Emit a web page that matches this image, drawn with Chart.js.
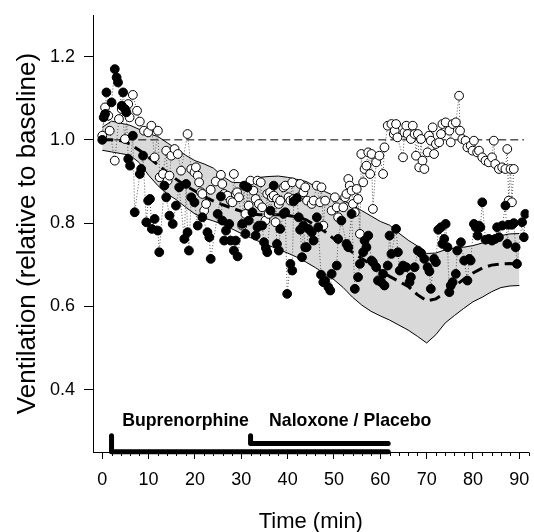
<!DOCTYPE html>
<html><head><meta charset="utf-8">
<script src="https://cdn.jsdelivr.net/npm/chart.js@4.4.1/dist/chart.umd.min.js"></script>
<style>html,body{margin:0;padding:0;background:#fff;}canvas{display:block;}</style>
</head><body>
<canvas id="c" width="534" height="532"></canvas>
<script>
// ---------- data ----------
const xTickLabels = [0, 10, 20, 30, 40, 50, 60, 70, 80, 90];
const yTickLabels = [0.4, 0.6, 0.8, 1.0, 1.2];

// filled circles (placebo after naloxone time)
const filledT = [0.0,0.3,0.6,0.9,2.0,2.7,3.1,3.4,4.2,4.5,4.9,5.2,5.6,6.0,6.6,7.0,8.1,8.4,8.8,9.5,9.9,10.3,10.7,11.3,12.0,12.3,13.4,13.8,14.5,15.2,15.9,16.6,17.7,18.1,18.4,18.7,19.2,19.9,20.6,21.6,22.7,23.1,23.4,24.9,25.6,25.9,26.3,26.7,27.4,27.7,28.4,28.8,29.2,30.2,30.6,30.9,31.3,31.6,32.4,33.1,33.5,33.8,34.5,34.9,35.3,35.6,36.3,37.0,37.7,38.1,38.4,39.1,39.5,39.9,40.6,41.0,41.3,42.0,42.4,42.7,43.1,43.4,43.8,44.1,44.5,45.2,45.6,46.3,46.6,47.2,47.7,48.1,48.8,49.2,49.5,50.6,50.9,51.6,52.7,53.1,53.8,54.5,55.2,55.6,56.3,56.6,57.0,57.4,58.1,58.4,59.1,59.5,60.2,60.6,60.9,61.6,62.0,62.4,63.4,63.8,64.2,64.9,65.6,66.3,66.6,67.4,68.1,68.8,69.5,70.2,70.6,70.9,71.6,72.0,72.5,73.1,73.4,73.8,74.1,74.5,74.9,75.2,75.6,76.3,76.6,77.4,78.1,78.8,79.2,79.5,80.2,80.6,81.0,81.3,81.6,82.0,82.7,83.4,84.1,84.8,85.2,85.6,86.3,87.0,87.4,87.7,88.4,88.8,89.2,89.5,90.6,91.0,91.3];
const filledV = [1.000,1.054,1.062,1.114,1.090,1.170,1.150,1.138,1.082,1.114,1.074,1.066,0.954,0.938,1.010,0.826,0.918,0.930,0.962,0.802,0.854,0.858,0.786,0.810,0.782,0.730,0.890,0.862,0.818,0.798,0.842,0.886,0.762,0.894,0.778,0.734,0.862,0.850,0.794,0.814,0.778,0.766,0.714,0.822,0.864,0.806,0.758,0.782,0.798,0.758,0.734,0.758,0.720,0.798,0.890,0.774,0.886,0.806,0.826,0.770,0.790,0.794,0.794,0.754,0.740,0.730,0.830,0.890,0.750,0.734,0.786,0.822,0.826,0.630,0.702,0.686,0.852,0.860,0.814,0.784,0.718,0.794,0.742,0.742,0.786,0.778,0.758,0.814,0.790,0.676,0.658,0.662,0.646,0.638,0.678,0.698,0.762,0.806,0.750,0.742,0.822,0.642,0.670,0.702,0.730,0.758,0.742,0.770,0.710,0.706,0.694,0.662,0.658,0.678,0.650,0.698,0.770,0.726,0.786,0.730,0.686,0.698,0.694,0.658,0.670,0.694,0.734,0.728,0.714,0.694,0.684,0.642,0.714,0.706,0.784,0.790,0.750,0.762,0.798,0.742,0.634,0.650,0.658,0.678,0.734,0.754,0.710,0.662,0.714,0.710,0.798,0.790,0.770,0.794,0.790,0.850,0.760,0.762,0.758,0.762,0.790,0.766,0.794,0.842,0.750,0.796,0.796,0.800,0.742,0.702,0.802,0.766,0.822];

// open circles (naloxone)
const openT = [0.0,0.6,0.9,1.3,1.6,2.7,3.6,4.2,4.9,5.6,5.9,6.6,7.5,8.1,9.0,9.9,10.6,11.3,12.0,12.4,13.1,13.8,14.1,14.5,14.9,15.6,16.3,17.0,18.4,19.2,19.9,20.2,20.6,20.9,21.3,21.6,22.0,22.4,23.4,24.5,25.6,25.9,26.3,27.0,27.7,28.1,28.4,28.8,29.1,29.5,30.2,30.9,31.6,32.0,32.6,33.1,33.5,33.8,34.2,34.5,35.2,35.6,35.9,36.2,36.6,37.0,37.4,37.7,38.1,38.4,39.1,39.5,40.2,40.6,41.0,41.3,42.4,42.7,43.4,43.8,44.2,45.2,45.6,46.3,47.0,47.3,47.7,48.1,49.5,50.2,50.6,50.9,52.0,52.4,52.7,53.1,53.4,53.8,54.1,54.5,54.9,55.2,55.6,55.9,56.3,56.6,57.0,57.4,57.8,58.1,58.4,59.1,59.8,60.6,60.9,61.6,62.4,62.9,63.1,63.4,63.7,64.9,65.2,65.6,65.9,66.6,67.0,67.4,67.7,68.1,68.4,68.8,69.1,69.5,70.2,70.5,70.9,71.3,71.6,72.0,72.7,73.1,73.4,74.1,74.9,75.2,75.6,76.3,77.0,77.2,77.7,78.4,78.8,79.5,79.9,80.2,80.9,81.3,82.0,82.7,83.4,84.1,84.5,84.8,85.6,86.3,87.0,87.4,87.7,88.1,88.4,88.8];
const openV = [1.010,1.078,1.062,1.058,1.022,0.950,1.050,1.074,1.002,1.086,1.054,1.108,1.070,1.044,1.022,1.018,1.034,0.958,1.022,0.910,0.918,0.974,0.902,0.914,0.962,0.978,0.966,0.926,1.014,0.930,0.922,0.934,0.914,0.898,0.874,0.870,0.830,0.846,0.880,0.900,0.916,0.894,0.870,0.866,0.854,0.850,0.918,0.870,0.874,0.862,0.794,0.822,0.842,0.902,0.878,0.858,0.902,0.846,0.898,0.838,0.806,0.870,0.822,0.874,0.862,0.866,0.802,0.858,0.846,0.854,0.886,0.890,0.862,0.854,0.898,0.858,0.862,0.894,0.874,0.886,0.854,0.846,0.854,0.890,0.850,0.886,0.794,0.854,0.830,0.862,0.838,0.814,0.838,0.862,0.870,0.906,0.890,0.878,0.846,0.826,0.882,0.858,0.774,0.966,0.898,0.930,0.938,0.970,0.918,0.966,0.834,0.946,0.962,0.918,0.982,1.034,1.038,1.014,1.022,1.038,1.006,0.958,1.018,1.034,1.014,1.002,1.034,1.014,0.962,1.014,0.934,1.002,0.950,0.930,0.970,1.010,0.998,1.030,0.966,0.990,0.994,1.014,1.038,1.042,1.022,0.994,1.038,1.042,1.106,1.022,1.002,0.998,0.982,0.986,0.974,0.998,0.970,0.974,0.958,0.950,0.946,0.958,0.998,0.942,0.930,0.934,0.930,0.978,0.854,0.930,0.850,0.930];

// model prediction: median (dashed) and band
const bandT = [0,2,4,6,8,10,12,14,16,18,20,22,24,26,28,30,32,34,36,38,40,42,44,46,48,50,52,54,56,58,60,62,64,66,68,70,72,74,76,78,80,82,84,86,88,90];
const bandUpper = [1.030,1.045,1.040,1.035,1.025,1.015,1.008,0.993,0.978,0.963,0.950,0.942,0.932,0.912,0.898,0.897,0.905,0.910,0.912,0.913,0.910,0.905,0.900,0.888,0.876,0.866,0.854,0.843,0.830,0.817,0.804,0.795,0.776,0.759,0.745,0.727,0.728,0.736,0.740,0.742,0.746,0.752,0.762,0.770,0.774,0.775];
const bandLower = [0.975,0.971,0.967,0.963,0.945,0.915,0.890,0.870,0.856,0.838,0.822,0.812,0.805,0.797,0.786,0.775,0.765,0.755,0.746,0.737,0.728,0.718,0.706,0.693,0.678,0.664,0.645,0.622,0.603,0.588,0.577,0.567,0.555,0.543,0.528,0.512,0.532,0.560,0.578,0.595,0.611,0.622,0.635,0.645,0.649,0.650];
const median = [1.000,1.000,0.998,0.990,0.975,0.958,0.940,0.922,0.905,0.890,0.877,0.864,0.853,0.844,0.836,0.828,0.822,0.820,0.820,0.820,0.818,0.815,0.808,0.795,0.780,0.762,0.745,0.730,0.715,0.700,0.686,0.672,0.660,0.648,0.628,0.613,0.618,0.632,0.648,0.665,0.680,0.692,0.699,0.702,0.703,0.700];

const baselineValue = 1.0;
const baselineSpan = [0, 91];

// treatment periods
const treatmentLabels = ['Buprenorphine', 'Naloxone / Placebo'];
const treatmentStart = [2, 32];
const treatmentEnd = [62, 62];

// ---------- chart ----------
const FONT = "'Liberation Sans', Arial, Helvetica, sans-serif";
Chart.defaults.font.family = FONT;
Chart.defaults.color = '#000';

const pts = (t, v) => t.map((x, i) => ({x, y: v[i]}));

const extras = {
  id: 'extras',
  afterDraw(chart) {
    const {ctx, scales: {x, y}} = chart;
    ctx.save();
    // minor ticks on x axis every 2 min
    ctx.strokeStyle = '#000';
    ctx.lineWidth = 1;
    const yb = Math.round(y.getPixelForValue(y.min)) + 0.5;
    for (let v = 0; v <= x.max; v += 2) {
      if (v % 10 === 0) continue;
      const px = Math.round(x.getPixelForValue(v)) + 0.5;
      ctx.beginPath(); ctx.moveTo(px, yb); ctx.lineTo(px, yb + 3.5); ctx.stroke();
    }
    // treatment labels
    ctx.font = 'bold 17.7px ' + FONT;
    ctx.fillStyle = '#000';
    ctx.textBaseline = 'alphabetic';
    ctx.textAlign = 'left';
    const ly = y.getPixelForValue(0.312);
    ctx.fillText(treatmentLabels[0], x.getPixelForValue(treatmentStart[0] + 2.3), ly);
    ctx.fillText(treatmentLabels[1], x.getPixelForValue(treatmentStart[1] + 4), ly);
    ctx.restore();
  }
};

const bracket = (i, level) => [
  {x: treatmentStart[i], y: 0.289},
  {x: treatmentStart[i], y: level},
  {x: treatmentEnd[i] - 0.3, y: level}
];

new Chart(document.getElementById('c'), {
  type: 'scatter',
  data: {
    datasets: [
      { label: 'lower', data: pts(bandT, bandLower), showLine: true, pointRadius: 0, borderColor: '#000', borderWidth: 1, fill: false, order: 20 },
      { label: 'upper', data: pts(bandT, bandUpper), showLine: true, pointRadius: 0, borderColor: '#000', borderWidth: 1, fill: '-1', backgroundColor: '#d9d9d9', order: 19 },
      { label: 'median', data: pts(bandT, median), showLine: true, pointRadius: 0, borderColor: '#000', borderWidth: 3, borderDash: [11, 6], order: 18 },
      { label: 'baseline', data: baselineSpan.map(x => ({x, y: baselineValue})), showLine: true, pointRadius: 0, borderColor: '#000', borderWidth: 1, borderDash: [8, 4], order: 17 },
      { label: 'openLine', data: pts(openT, openV), showLine: true, pointRadius: 0, borderColor: '#555', borderWidth: 1, borderDash: [1, 2], order: 16 },
      { label: 'filledLine', data: pts(filledT, filledV), showLine: true, pointRadius: 0, borderColor: '#555', borderWidth: 1, borderDash: [1, 2], order: 15 },
      { label: 'open', data: pts(openT, openV), showLine: false, pointRadius: 4.4, pointBackgroundColor: '#fff', pointBorderColor: '#000', pointBorderWidth: 1, order: 14 },
      { label: 'filled', data: pts(filledT, filledV), showLine: false, pointRadius: 4.4, pointBackgroundColor: '#000', pointBorderColor: '#000', pointBorderWidth: 1, order: 13 },
      { label: 'bup', data: bracket(0, 0.2505), showLine: true, pointRadius: 0, borderColor: '#000', borderWidth: 5, borderCapStyle: 'round', borderJoinStyle: 'round', clip: false, order: 2 },
      { label: 'nal', data: bracket(1, 0.2705), showLine: true, pointRadius: 0, borderColor: '#000', borderWidth: 5, borderCapStyle: 'round', borderJoinStyle: 'round', clip: false, order: 1 }
    ]
  },
  options: {
    responsive: false,
    devicePixelRatio: 1,
    animation: false,
    events: [],
    layout: { padding: { top: 15, right: 2, left: 0, bottom: 0 } },
    elements: { line: { tension: 0 } },
    plugins: {
      legend: { display: false },
      tooltip: { enabled: false },
      filler: { drawTime: 'beforeDatasetsDraw' }
    },
    scales: {
      x: {
        type: 'linear', min: -2, max: 92,
        afterBuildTicks: s => { s.ticks = xTickLabels.map(v => ({value: v})); },
        afterFit: s => { s.height = 80; s.paddingLeft = 0; s.paddingRight = 0; },
        grid: { display: true, drawOnChartArea: false, drawTicks: true, tickLength: 7, color: '#000', tickColor: '#000' },
        border: { display: true, color: '#000', width: 1 },
        ticks: { font: { size: 18 }, color: '#000', padding: 10, maxRotation: 0, callback: v => String(v) },
        title: { display: true, text: 'Time (min)', font: { size: 22 }, color: '#000', padding: { top: 0, bottom: -3 } }
      },
      y: {
        type: 'linear', min: 0.25, max: 1.3,
        afterBuildTicks: s => { s.ticks = yTickLabels.map(v => ({value: v})); },
        afterFit: s => { s.width = 93; s.paddingTop = 0; s.paddingBottom = 0; },
        grid: { display: true, drawOnChartArea: false, drawTicks: true, tickLength: 9, color: '#000', tickColor: '#000' },
        border: { display: true, color: '#000', width: 1 },
        ticks: { font: { size: 18 }, color: '#000', padding: 9, callback: v => Number(v).toFixed(1) },
        title: { display: true, text: 'Ventilation (relative to baseline)', font: { size: 26 }, color: '#000', padding: { top: 12, bottom: 0 } }
      }
    }
  },
  plugins: [extras]
});
</script>
</body></html>
